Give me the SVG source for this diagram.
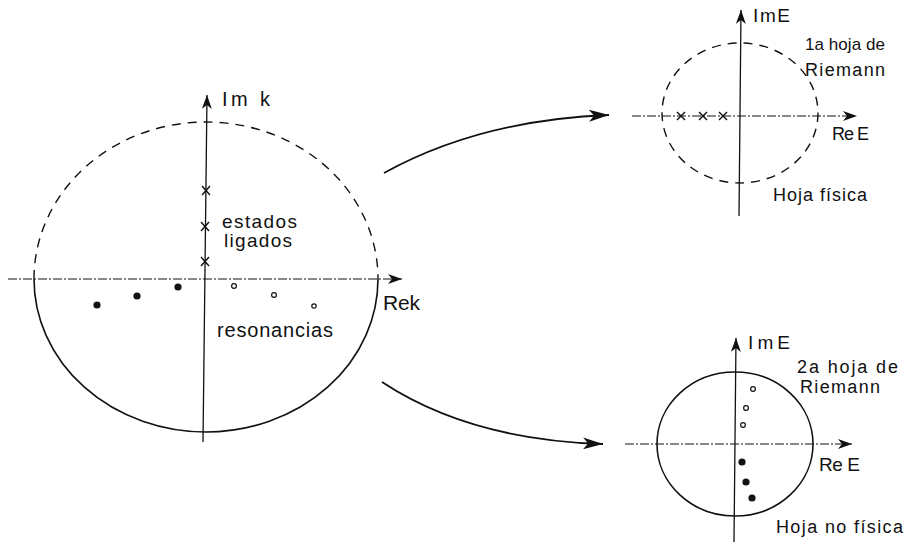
<svg xmlns="http://www.w3.org/2000/svg" width="909" height="545" viewBox="0 0 909 545">
  <style>
    .ax { stroke: #111; stroke-width: 1.3; fill: none; }
    .axd { stroke: #111; stroke-width: 1.2; fill: none; stroke-dasharray: 9 2 2 2; }
    .dash { stroke: #111; stroke-width: 1.4; fill: none; stroke-dasharray: 9 7; }
    .solid { stroke: #111; stroke-width: 1.6; fill: none; }
    .conn { stroke: #111; stroke-width: 1.8; fill: none; }
    .lbl { font-family: "Liberation Sans", Arial, sans-serif; fill: #111; }
    .pole { fill: #111; }
    .zero { fill: #fff; stroke: #111; stroke-width: 1.2; }
    .x { stroke: #111; stroke-width: 1.4; }
  </style>
  <defs>
    <marker id="head" viewBox="0 0 20 12" refX="20" refY="6" markerWidth="20" markerHeight="12" markerUnits="userSpaceOnUse" orient="auto">
      <path d="M0,0 L20,6 L0,12 L5,6 Z" fill="#111"/>
    </marker>
    <marker id="axhead" viewBox="0 0 14 10" refX="14" refY="5" markerWidth="14" markerHeight="10" markerUnits="userSpaceOnUse" orient="auto">
      <path d="M0,0 L14,5 L0,10 L4,5 Z" fill="#111"/>
    </marker>
  </defs>
  <rect width="909" height="545" fill="#fff"/>

  <!-- k plane -->
  <g id="k-plane">
    <path class="dash" d="M34,279 A172,157 0 0 1 378,279"/>
    <path class="solid" d="M34,279 A172,153 0 0 0 378,279"/>
    <line class="axd" x1="8" y1="279" x2="402" y2="279" marker-end="url(#axhead)"/>
    <line class="ax" x1="203" y1="442" x2="207" y2="95" marker-end="url(#axhead)"/>
    <text class="lbl" x="222" y="106" font-size="20" textLength="48" lengthAdjust="spacing">Im k</text>
    <text class="lbl" x="383" y="310" font-size="21" textLength="37" lengthAdjust="spacing">Rek</text>
    <!-- bound states -->
    <g class="x">
      <line x1="202" y1="186" x2="210" y2="195"/><line x1="210" y1="186" x2="202" y2="195"/>
      <line x1="201" y1="222" x2="209" y2="231"/><line x1="209" y1="222" x2="201" y2="231"/>
      <line x1="201" y1="257" x2="209" y2="266"/><line x1="209" y1="257" x2="201" y2="266"/>
    </g>
    <text class="lbl" x="222" y="228" font-size="19" textLength="75" lengthAdjust="spacing">estados</text>
    <text class="lbl" x="224" y="247" font-size="19" textLength="68" lengthAdjust="spacing">ligados</text>
    <!-- resonances -->
    <circle class="pole" cx="97" cy="305" r="3.6"/>
    <circle class="pole" cx="137" cy="296" r="3.6"/>
    <circle class="pole" cx="178" cy="287" r="3.6"/>
    <circle class="zero" cx="234" cy="286" r="2.4"/>
    <circle class="zero" cx="274" cy="295" r="2.4"/>
    <circle class="zero" cx="314" cy="306" r="2.2"/>
    <text class="lbl" x="217" y="337" font-size="20" textLength="116" lengthAdjust="spacing">resonancias</text>
  </g>

  <!-- first Riemann sheet -->
  <g id="sheet-1">
    <ellipse class="dash" cx="740" cy="113" rx="78" ry="70"/>
    <line class="axd" x1="632" y1="116" x2="857" y2="116" marker-end="url(#axhead)"/>
    <line class="ax" x1="739" y1="216" x2="741" y2="10" marker-end="url(#axhead)"/>
    <g class="x">
      <line x1="677" y1="112" x2="685" y2="120"/><line x1="685" y1="112" x2="677" y2="120"/>
      <line x1="699" y1="112" x2="707" y2="120"/><line x1="707" y1="112" x2="699" y2="120"/>
      <line x1="719" y1="112" x2="727" y2="120"/><line x1="727" y1="112" x2="719" y2="120"/>
    </g>
    <text class="lbl" x="753" y="22" font-size="19" textLength="37" lengthAdjust="spacing">ImE</text>
    <text class="lbl" x="805" y="50" font-size="17" textLength="80" lengthAdjust="spacing">1a hoja de</text>
    <text class="lbl" x="805" y="76" font-size="18" textLength="80" lengthAdjust="spacing">Riemann</text>
    <text class="lbl" x="832" y="140" font-size="18" textLength="37" lengthAdjust="spacing">Re E</text>
    <text class="lbl" x="773" y="201" font-size="18" textLength="94" lengthAdjust="spacing">Hoja física</text>
  </g>

  <!-- second Riemann sheet -->
  <g id="sheet-2">
    <ellipse class="solid" cx="735" cy="444" rx="78" ry="72"/>
    <line class="axd" x1="625" y1="444" x2="852" y2="444" marker-end="url(#axhead)"/>
    <line class="ax" x1="734" y1="542" x2="736" y2="338" marker-end="url(#axhead)"/>
    <circle class="zero" cx="753" cy="389" r="2.4"/>
    <circle class="zero" cx="746" cy="408" r="2.4"/>
    <circle class="zero" cx="743" cy="425" r="2.4"/>
    <circle class="pole" cx="742" cy="462" r="3.6"/>
    <circle class="pole" cx="746" cy="482" r="3.6"/>
    <circle class="pole" cx="752" cy="498" r="3.6"/>
    <text class="lbl" x="748" y="349" font-size="19" textLength="42" lengthAdjust="spacing">ImE</text>
    <text class="lbl" x="797" y="373" font-size="18" textLength="101" lengthAdjust="spacing">2a hoja de</text>
    <text class="lbl" x="800" y="393" font-size="18" textLength="80" lengthAdjust="spacing">Riemann</text>
    <text class="lbl" x="819" y="471" font-size="19" textLength="41" lengthAdjust="spacing">Re E</text>
    <text class="lbl" x="776" y="533" font-size="18" textLength="127" lengthAdjust="spacing">Hoja no física</text>
  </g>

  <!-- maps to the two sheets -->
  <g id="connectors">
    <path class="conn" d="M384,173 Q480,120 609,115" marker-end="url(#head)"/>
    <path class="conn" d="M382,382 Q470,440 603,444" marker-end="url(#head)"/>
  </g>
</svg>
